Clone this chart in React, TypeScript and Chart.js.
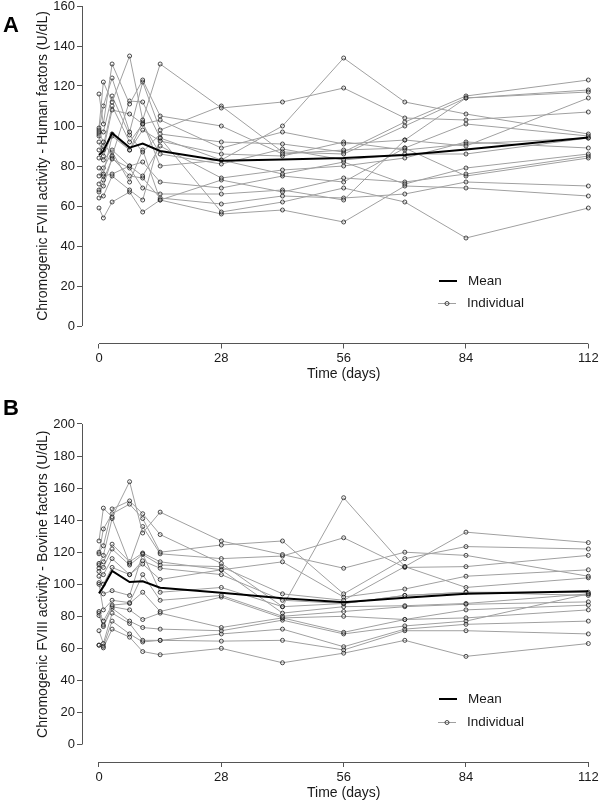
import React, { useEffect, useRef } from 'react';
import { Chart, registerables } from 'chart.js';

Chart.register(...registerables);

// ---------- data ----------
const DAYS = [0, 1, 3, 7, 10, 14, 28, 42, 56, 70, 84, 112];
const X_TICKS = [0, 28, 56, 84, 112];
const Y_TICKS_HUMAN = [0, 20, 40, 60, 80, 100, 120, 140, 160];
const Y_TICKS_BOVINE = [0, 20, 40, 60, 80, 100, 120, 140, 160, 180, 200];

const MEAN_HUMAN = [85.5, 87.5, 96.5, 89.2, 91.2, 87.5, 82.6, 83.3, 84, 85.5, 88.3, 94.3];
const MEAN_BOVINE = [94.3, 98.5, 108.3, 101.4, 101.8, 97.8, 94.7, 91.2, 88.7, 91.6, 94.1, 95.6];

const INDIVIDUAL_HUMAN = [
  [116, 101, 131, 111, 123, 105, 100, 86, 88, 89, 101, 95],
  [99, 122, 112, 135, 103, 131, 109, 112, 119, 104, 103, 107],
  [98, 110, 124, 97, 122, 98, 110, 87, 86, 100, 114, 117],
  [97, 92, 85, 112.5, 112, 94, 83, 100, 134, 112, 106, 96],
  [96, 97, 115, 95.5, 87, 96, 92, 91, 87, 102, 115, 123],
  [95, 88, 108, 106, 101, 103, 89, 97, 91, 93, 90, 114],
  [92, 85, 96, 88, 98, 92.5, 86, 85, 92, 88, 91, 94],
  [88, 90, 110, 92, 101, 86, 81, 88.5, 83, 86, 86, 94],
  [84, 83, 88, 80, 75, 90, 74, 78, 80, 84, 92, 89],
  [79, 76, 95, 88, 102, 80, 83, 76, 82, 71, 79, 86],
  [75, 79, 87, 72, 88, 63, 73, 67, 74, 72, 76, 85],
  [71, 75, 76, 80, 82, 72, 69, 75, 72, 89, 75, 84],
  [68, 73, 83.5, 79, 69, 66, 66, 68, 63, 93, 114, 118],
  [67, 70, 84, 75, 74, 64, 61, 65, 64, 66, 72, 70],
  [64, 65, 75, 68, 63, 94, 57, 62, 69, 62, 44, 59],
  [59, 54, 62, 67, 57, 63, 56, 58, 52, 70, 69, 65],
];

const INDIVIDUAL_BOVINE = [
  [127, 147.5, 142, 164, 132, 145, 127, 118.5, 110, 120, 118, 105],
  [120, 124, 147, 152, 144, 131, 113, 86, 154, 111, 132.5, 126],
  [119, 134.5, 144, 150, 141, 120, 124.5, 127, 94, 116, 123.5, 122],
  [113, 118, 141, 113, 136, 119, 116, 117.6, 129, 110.5, 111, 118],
  [112, 114, 125, 114, 119.5, 114, 109, 114, 92, 97, 105, 109],
  [110, 110.5, 122, 112, 118.6, 112, 111, 94, 90, 111, 98, 104],
  [108, 106, 116, 106, 114.6, 110, 106, 90, 88, 93, 95, 95],
  [105, 100, 110.5, 106, 112.6, 103, 109, 82, 86, 86.6, 88, 94],
  [101, 94, 96, 93, 119, 95, 98, 86, 88, 93, 95, 93],
  [100, 84, 90, 88.5, 106, 90, 93, 80, 83, 86, 87.5, 89],
  [83, 77, 87, 88, 95, 83, 92, 79, 80, 78, 84, 87],
  [82, 74.5, 86, 84, 78, 82, 73, 79, 70, 78, 79, 84],
  [80.5, 73.6, 85, 77, 73, 72, 71, 77.6, 69, 74, 77, 94],
  [71, 63, 82, 75.5, 65, 65, 69, 72, 61, 72, 75, 77],
  [62, 61.3, 77, 69, 64, 65, 64.5, 65, 59, 71, 71, 69],
  [62, 60.3, 72, 67, 58, 56, 60, 51, 57, 65, 55, 63],
];

const X_TITLE = 'Time (days)';
const Y_TITLE_HUMAN = 'Chromogenic FVIII activity - Human factors (U/dL)';
const Y_TITLE_BOVINE = 'Chromogenic FVIII activity - Bovine factors (U/dL)';
const LEGEND_MEAN = 'Mean';
const LEGEND_INDIVIDUAL = 'Individual';

// ---------- styling ----------
const FONT = '"Liberation Sans", Arial, Helvetica, sans-serif';
const TEXT = '#1a1a1a';
const AXIS = '#555555';
const IND_LINE = '#a0a0a0';
const POINT = '#1e1e1e';
const CANVAS_W = 620;

type PanelCfg = {
  letter: string;
  yTitle: string;
  yTicks: number[];
  yMin: number;
  yMax: number;
  mean: number[];
  individuals: number[][];
  height: number;
  padTop: number;
  xScaleHeight: number;
  xTickPad: number;
  xTitlePadBottom: number;
  letterBaseline: number;
  legendMeanY: number;
  legendIndY: number;
};

function align(px: number) {
  return Math.round(px - 0.5) + 0.5;
}

function makePlugin(cfg: PanelCfg) {
  return {
    id: 'rStyle' + cfg.letter,
    afterDraw(chart: any) {
      const ctx = chart.ctx as CanvasRenderingContext2D;
      const xs = chart.scales.x;
      const ys = chart.scales.y;
      const area = chart.chartArea;
      ctx.save();
      // axes lines (R-style detached axes)
      ctx.strokeStyle = AXIS;
      ctx.lineWidth = 1;
      ctx.beginPath();
      const yx = align(area.left);
      ctx.moveTo(yx, ys.getPixelForValue(cfg.yTicks[0]));
      ctx.lineTo(yx, ys.getPixelForValue(cfg.yTicks[cfg.yTicks.length - 1]));
      const xy = align(area.bottom);
      ctx.moveTo(xs.getPixelForValue(X_TICKS[0]), xy);
      ctx.lineTo(xs.getPixelForValue(X_TICKS[X_TICKS.length - 1]), xy);
      ctx.stroke();

      // legend
      ctx.strokeStyle = '#000';
      ctx.lineWidth = 2;
      ctx.beginPath();
      ctx.moveTo(439, cfg.legendMeanY);
      ctx.lineTo(457, cfg.legendMeanY);
      ctx.stroke();
      ctx.strokeStyle = IND_LINE;
      ctx.lineWidth = 1;
      ctx.beginPath();
      ctx.moveTo(438, cfg.legendIndY + 0.5);
      ctx.lineTo(456, cfg.legendIndY + 0.5);
      ctx.stroke();
      ctx.strokeStyle = POINT;
      ctx.lineWidth = 0.8;
      ctx.beginPath();
      ctx.arc(447, cfg.legendIndY + 0.5, 2, 0, Math.PI * 2);
      ctx.stroke();
      ctx.fillStyle = TEXT;
      ctx.font = `13.5px ${FONT}`;
      ctx.textBaseline = 'middle';
      ctx.textAlign = 'left';
      ctx.fillText(LEGEND_MEAN, 468, cfg.legendMeanY);
      ctx.fillText(LEGEND_INDIVIDUAL, 467, cfg.legendIndY);

      // panel letter
      ctx.font = `bold 22px ${FONT}`;
      ctx.textBaseline = 'alphabetic';
      ctx.fillStyle = '#000';
      ctx.fillText(cfg.letter, 3, cfg.letterBaseline);
      ctx.restore();
    },
  };
}

function buildConfig(cfg: PanelCfg): any {
  const datasets: any[] = [
    {
      label: LEGEND_MEAN,
      data: DAYS.map((d, i) => ({ x: d, y: cfg.mean[i] })),
      borderColor: '#000000',
      borderWidth: 2,
      pointRadius: 0,
      tension: 0,
      order: 0,
    },
    ...cfg.individuals.map((s) => ({
      label: LEGEND_INDIVIDUAL,
      data: DAYS.map((d, i) => ({ x: d, y: s[i] })),
      borderColor: IND_LINE,
      borderWidth: 1,
      pointRadius: 2,
      pointBorderWidth: 0.8,
      pointBorderColor: POINT,
      pointBackgroundColor: 'rgba(0,0,0,0)',
      tension: 0,
      order: 1,
    })),
  ];
  return {
    type: 'line',
    data: { datasets },
    options: {
      animation: false,
      responsive: false,
      devicePixelRatio: 1,
      events: [],
      layout: { padding: { top: cfg.padTop, left: 0, right: 14.6, bottom: 0 } },
      plugins: { legend: { display: false }, tooltip: { enabled: false } },
      scales: {
        x: {
          type: 'linear',
          min: -3.891,
          max: 115.91,
          afterBuildTicks: (s: any) => {
            s.ticks = X_TICKS.map((v) => ({ value: v }));
          },
          afterFit: (s: any) => {
            s.height = cfg.xScaleHeight;
            s.paddingLeft = 0;
            s.paddingRight = 0;
          },
          grid: { drawOnChartArea: false, drawTicks: true, tickLength: 5, color: AXIS, lineWidth: 1 },
          border: { display: false },
          ticks: {
            font: { family: FONT, size: 13 },
            color: TEXT,
            padding: cfg.xTickPad,
            maxRotation: 0,
            autoSkip: false,
          },
          title: {
            display: true,
            text: X_TITLE,
            font: { family: FONT, size: 14 },
            color: TEXT,
            padding: { top: 0, bottom: cfg.xTitlePadBottom },
          },
        },
        y: {
          type: 'linear',
          min: cfg.yMin,
          max: cfg.yMax,
          afterBuildTicks: (s: any) => {
            s.ticks = cfg.yTicks.map((v) => ({ value: v }));
          },
          afterFit: (s: any) => {
            s.width = 82;
            s.paddingTop = 0;
            s.paddingBottom = 0;
          },
          grid: { drawOnChartArea: false, drawTicks: true, tickLength: 5, color: AXIS, lineWidth: 1 },
          border: { display: false },
          ticks: {
            font: { family: FONT, size: 13 },
            color: TEXT,
            padding: 2,
            autoSkip: false,
          },
          title: {
            display: true,
            text: cfg.yTitle,
            font: { family: FONT, size: 14 },
            color: TEXT,
            padding: { top: 34.6, bottom: 0 },
          },
        },
      },
    },
    plugins: [makePlugin(cfg)],
  };
}

const PANEL_A: PanelCfg = {
  letter: 'A',
  yTitle: Y_TITLE_HUMAN,
  yTicks: Y_TICKS_HUMAN,
  yMin: -8.75,
  yMax: 168.75,
  mean: MEAN_HUMAN,
  individuals: INDIVIDUAL_HUMAN,
  height: 410,
  padTop: 8.5,
  xScaleHeight: 46.5,
  xTickPad: 2,
  xTitlePadBottom: 7.6,
  letterBaseline: 52,
  legendMeanY: 301,
  legendIndY: 323,
};

const PANEL_B: PanelCfg = {
  letter: 'B',
  yTitle: Y_TITLE_BOVINE,
  yTicks: Y_TICKS_BOVINE,
  yMin: -10.92,
  yMax: 210.92,
  mean: MEAN_BOVINE,
  individuals: INDIVIDUAL_BOVINE,
  height: 410,
  padTop: 11.5,
  xScaleHeight: 43,
  xTickPad: 2.5,
  xTitlePadBottom: 3.6,
  letterBaseline: 20,
  legendMeanY: 304,
  legendIndY: 327,
};

function Panel({ cfg, top }: { cfg: PanelCfg; top: number }) {
  const ref = useRef<HTMLCanvasElement | null>(null);
  useEffect(() => {
    if (!ref.current) return;
    const chart = new Chart(ref.current, buildConfig(cfg));
    return () => chart.destroy();
  }, [cfg]);
  return (
    <canvas
      ref={ref}
      width={CANVAS_W}
      height={cfg.height}
      style={{ position: 'absolute', left: 0, top, width: CANVAS_W, height: cfg.height, display: 'block' }}
    />
  );
}

export default function App() {
  useEffect(() => {
    document.body.style.margin = '0';
  }, []);
  return (
    <div style={{ position: 'relative', width: 600, height: 805, overflow: 'hidden', background: '#ffffff' }}>
      <style>{'body{margin:0;}'}</style>
      <Panel cfg={PANEL_A} top={-20} />
      <Panel cfg={PANEL_B} top={395} />
    </div>
  );
}
